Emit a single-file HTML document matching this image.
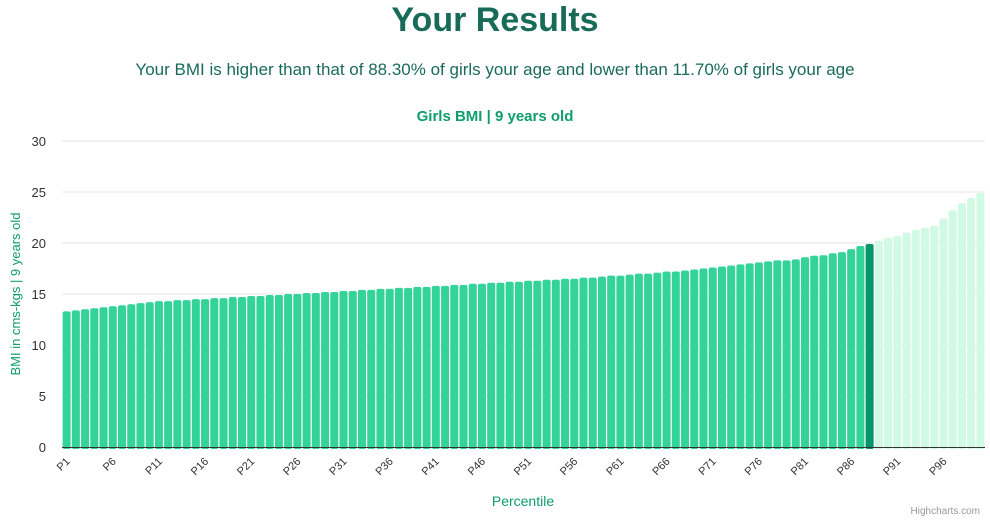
<!DOCTYPE html>
<html><head><meta charset="utf-8">
<style>
body{margin:0;background:#fff;font-family:"Liberation Sans",sans-serif;}
#wrap{position:relative;width:990px;height:520px;overflow:hidden;}
h1{position:absolute;top:0;left:0;width:990px;margin:0;text-align:center;font-size:34px;font-weight:bold;color:#176b58;line-height:40px;}
.sub{position:absolute;top:60px;left:0;width:990px;text-align:center;font-size:17px;color:#1a6b5a;}
</style></head><body>
<div id="wrap">
<h1>Your Results</h1>
<div class="sub">Your BMI is higher than that of 88.30% of girls your age and lower than 11.70% of girls your age</div>
<svg id="chart" width="990" height="520" style="position:absolute;left:0;top:0">
<text x="495" y="121" text-anchor="middle" font-size="15" font-weight="bold" fill="#0f9d6c">Girls BMI | 9 years old</text>
<text x="20" y="294" transform="rotate(-90 20 294)" text-anchor="middle" font-size="13" fill="#0f9d6c">BMI in cms-kgs | 9 years old</text>
<text x="523" y="506" text-anchor="middle" font-size="14" fill="#0f9d6c">Percentile</text>
<text x="980" y="514" text-anchor="end" font-size="10" fill="#999">Highcharts.com</text>
<g id="grid"></g><g id="bars"></g><g id="xl"></g>
</svg>
</div>
<script>
const categories = Array.from({length:100},(_, i)=>'P'+(i+1));
const bmiValues = [13.3,13.4,13.5,13.6,13.7,13.8,13.9,14.0,14.1,14.2,
14.3,14.3,14.4,14.4,14.5,14.5,14.6,14.6,14.7,14.7,
14.8,14.8,14.9,14.9,15.0,15.0,15.1,15.1,15.2,15.2,
15.3,15.3,15.4,15.4,15.5,15.5,15.6,15.6,15.7,15.7,
15.8,15.8,15.9,15.9,16.0,16.0,16.1,16.1,16.2,16.2,
16.3,16.3,16.4,16.4,16.5,16.5,16.6,16.6,16.7,16.8,
16.8,16.9,17.0,17.0,17.1,17.2,17.2,17.3,17.4,17.5,
17.6,17.7,17.8,17.9,18.0,18.1,18.2,18.3,18.3,18.4,
18.6,18.75,18.8,19.0,19.1,19.4,19.7,19.9,20.2,20.5,
20.7,21.0,21.3,21.5,21.7,22.4,23.2,23.9,24.4,24.9];
const yTicks = [0,5,10,15,20,25,30];
const userIndex = 87;
const NS='http://www.w3.org/2000/svg';
const x0=62,x1=985,yB=447,yT=141,yMax=30;
const step=(x1-x0)/categories.length;
const yS=v=>yB-(v/yMax)*(yB-yT);
const xS=i=>x0+i*step;
function mk(t,a,p){const e=document.createElementNS(NS,t);for(const k in a)e.setAttribute(k,a[k]);p.appendChild(e);return e;}
const grid=document.getElementById('grid');
yTicks.forEach(t=>{
  if(t>0){const l=mk('line',{x1:x0,x2:x1,y1:yS(t),y2:yS(t),stroke:'#e6e6e6'},grid);
  
  }
  const tx=mk('text',{x:46,y:yS(t)+5,'text-anchor':'end','font-size':13,fill:'#333'},grid);
  tx.textContent=t;
  
  
});
const bars=document.getElementById('bars');
bmiValues.forEach((v,i)=>{
  const c=i<userIndex?'#34d399':(i===userIndex?'#059669':'#d1fae5');
  const r=mk('rect',{x:xS(i)+0.6,y:yS(v),width:step-1.2,height:yB-yS(v)+2,rx:2,fill:c},bars);
  
  
});
const ax=mk('line',{x1:x0,x2:x1,y1:yB+0.5,y2:yB+0.5,stroke:'#333'},bars);


const xl=document.getElementById('xl');
categories.forEach((c,i)=>{
  if(i%5!==0)return;
  const x=xS(i)+step/2+4,y=462;
  const t=mk('text',{x:x,y:y,'text-anchor':'end','font-size':11,fill:'#333',transform:`rotate(-45 ${x} ${y})`},xl);
  t.textContent=c;
  
  
});
</script>
</body></html>
